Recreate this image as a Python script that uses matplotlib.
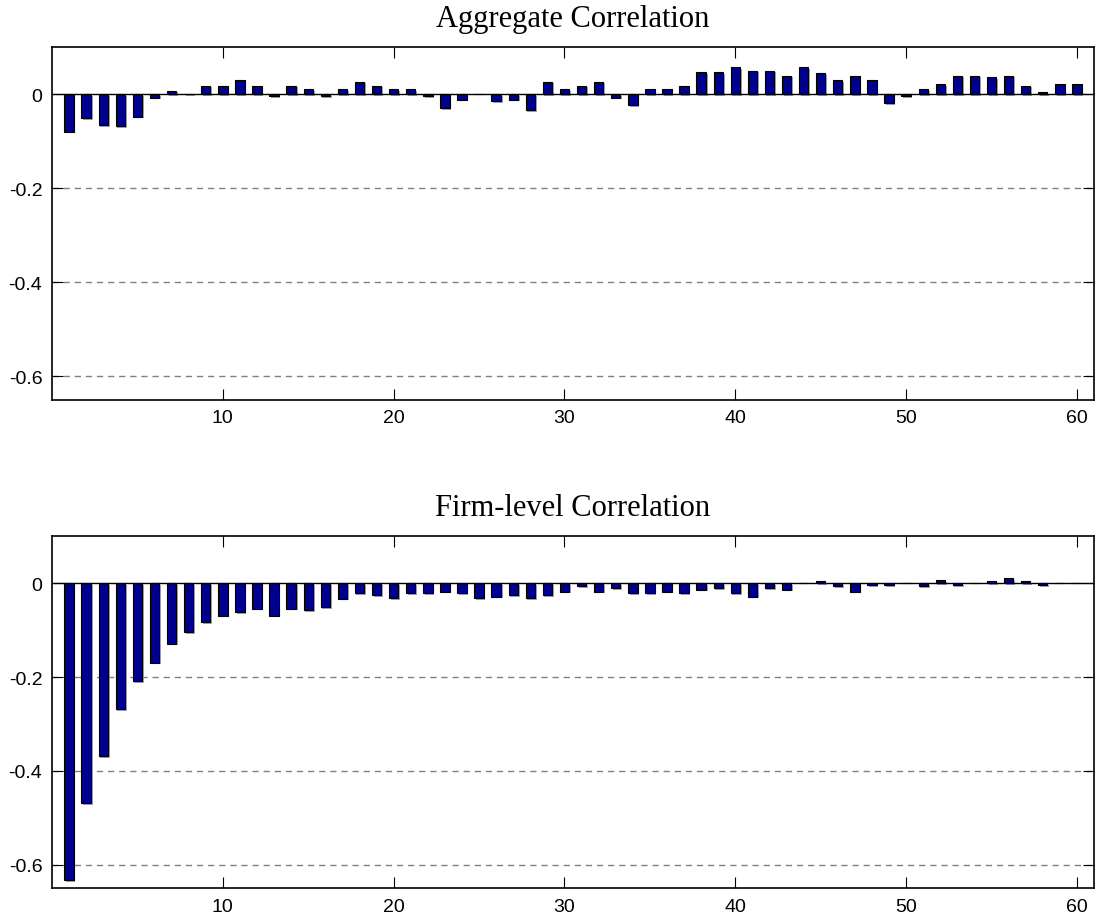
import numpy as np
import matplotlib
matplotlib.use("Agg")
import matplotlib.pyplot as plt
import matplotlib.patheffects as pe

# lags 1..60
lags = np.arange(1, 61)

aggregate_corr = [
    -0.080, -0.051, -0.066, -0.069, -0.048, -0.008, 0.007, 0.001, 0.018, 0.018,
    0.029, 0.018, -0.005, 0.018, 0.011, -0.005, 0.011, 0.026, 0.018, 0.011,
    0.011, -0.005, -0.030, -0.012, 0.000, -0.015, -0.012, -0.034, 0.026, 0.011,
    0.018, 0.026, -0.008, -0.023, 0.011, 0.011, 0.018, 0.046, 0.046, 0.057,
    0.050, 0.050, 0.039, 0.057, 0.044, 0.029, 0.039, 0.029, -0.019, -0.005,
    0.011, 0.021, 0.039, 0.039, 0.036, 0.039, 0.018, 0.004, 0.021, 0.021,
]

firm_corr = [
    -0.633, -0.469, -0.369, -0.268, -0.209, -0.169, -0.129, -0.104, -0.083, -0.069,
    -0.061, -0.054, -0.069, -0.054, -0.058, -0.051, -0.033, -0.021, -0.026, -0.032,
    -0.021, -0.021, -0.018, -0.021, -0.032, -0.029, -0.025, -0.032, -0.025, -0.018,
    -0.007, -0.018, -0.011, -0.021, -0.021, -0.018, -0.021, -0.014, -0.011, -0.021,
    -0.029, -0.011, -0.014, 0.000, 0.004, -0.007, -0.018, -0.004, -0.004, 0.000,
    -0.007, 0.007, -0.004, 0.000, 0.004, 0.011, 0.004, -0.004, 0.000, 0.000,
]

titles = ["Aggregate Correlation", "Firm-level Correlation"]
yticks = [-0.6, -0.4, -0.2, 0]
ytick_labels = ["-0.6", "-0.4", "-0.2", "0"]
xticks = [10, 20, 30, 40, 50, 60]

bar_color = "#00008F"

fig = plt.figure(figsize=(10.97, 9.2), dpi=100)
ax_top = fig.add_axes([0.0474, 0.5645, 0.9499, 0.3833])
ax_bot = fig.add_axes([0.0474, 0.0334, 0.9499, 0.3826])

for ax, vals, title in zip([ax_top, ax_bot], [aggregate_corr, firm_corr], titles):
    bars = ax.bar(lags, vals, width=0.55, color=bar_color, edgecolor="black",
                  linewidth=0.8, zorder=3)
    for b in bars:
        b.set_path_effects([pe.SimplePatchShadow(offset=(1.2, -1.2), shadow_rgbFace="0.55", alpha=0.8),
                            pe.Normal()])
    ax.axhline(0, color="black", linewidth=1.0, zorder=4)
    for y in yticks[:-1]:
        ax.axhline(y, color="0.5", linewidth=1.0, linestyle=(0, (4.5, 3.5)), zorder=1)

    ax.set_xlim(0, 61)
    ax.set_ylim(-0.65, 0.1)
    ax.set_xticks(xticks)
    ax.set_xticklabels([str(t) for t in xticks], fontsize=14, family="Liberation Sans")
    ax.set_yticks(yticks)
    ax.set_yticklabels(ytick_labels, fontsize=14, family="Liberation Sans")
    ax.tick_params(direction="in", length=8, width=0.8, top=True, right=True, pad=7)
    for s in ax.spines.values():
        s.set_linewidth(1.2)
    ax.set_title(title, fontsize=22, family="Liberation Serif", pad=15)

fig.savefig("out.png", dpi=100)
